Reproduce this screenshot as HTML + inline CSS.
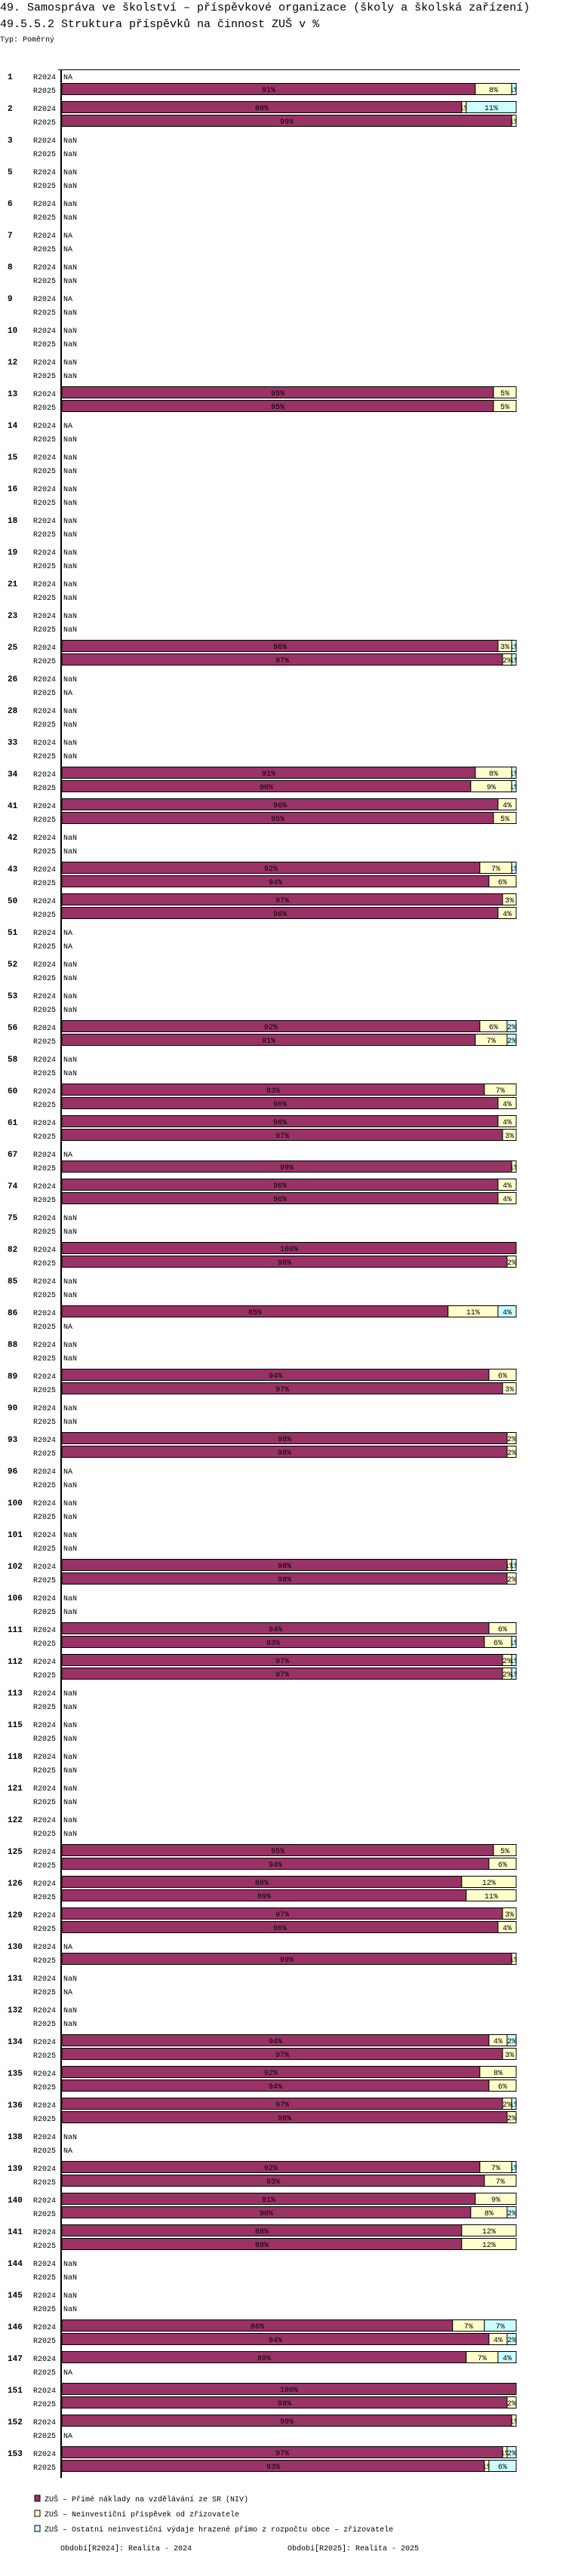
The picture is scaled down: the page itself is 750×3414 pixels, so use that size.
<!DOCTYPE html>
<html><head><meta charset="utf-8"><style>
body{margin:0;background:#fff;}
svg{display:block;font-family:"Liberation Mono",monospace;}
</style></head><body>
<svg id="chart" width="750" height="3414" viewBox="0 0 750 3414" xmlns="http://www.w3.org/2000/svg">
<defs id="defs"></defs>
<text x="0" y="14" font-size="15">49. Samospráva ve školství – příspěvkové organizace (školy a školská zařízení)</text>
<text x="0" y="36" font-size="15">49.5.5.2 Struktura příspěvků na činnost ZUŠ v %</text>
<text x="0" y="55" font-size="10">Typ: Poměrný</text>
<g id="plot"></g>
<g>
<rect x="46" y="3307" width="7" height="8" fill="#993366" stroke="#000"/>
<text x="59" y="3315" font-size="10">ZUŠ – Přímé náklady na vzdělávání ze SR (NIV)</text>
<rect x="46" y="3327" width="7" height="8" fill="#FFFFCC" stroke="#000"/>
<text x="59" y="3335" font-size="10">ZUŠ – Neinvestiční příspěvek od zřizovatele</text>
<rect x="46" y="3347" width="7" height="8" fill="#CCFFFF" stroke="#000"/>
<text x="59" y="3355" font-size="10">ZUŠ – Ostatní neinvestiční výdaje hrazené přímo z rozpočtu obce – zřizovatele</text>
<text x="80" y="3380" font-size="10">Období[R2024]: Realita - 2024</text>
<text x="381" y="3380" font-size="10">Období[R2025]: Realita - 2025</text>
</g>
</svg>
<script>
const groups = [1,2,3,5,6,7,8,9,10,12,13,14,15,16,18,19,21,23,25,26,28,33,34,41,42,43,50,51,52,53,56,58,60,61,67,74,75,82,85,86,88,89,90,93,96,100,101,102,106,111,112,113,115,118,121,122,125,126,129,130,131,132,134,135,136,138,139,140,141,144,145,146,147,151,152,153];
const periods = ["R2024","R2025"];
const r2024 = ["NA",[88,1,11],"NaN","NaN","NaN","NA","NaN","NA","NaN","NaN",[95,5,0],"NA","NaN","NaN","NaN","NaN","NaN","NaN",[96,3,1],"NaN","NaN","NaN",[91,8,1],[96,4,0],"NaN",[92,7,1],[97,3,0],"NA","NaN","NaN",[92,6,2],"NaN",[93,7,0],[96,4,0],"NA",[96,4,0],"NaN",[100,0,0],"NaN",[85,11,4],"NaN",[94,6,0],"NaN",[98,2,0],"NA","NaN","NaN",[98,1,1],"NaN",[94,6,0],[97,2,1],"NaN","NaN","NaN","NaN","NaN",[95,5,0],[88,12,0],[97,3,0],"NA","NaN","NaN",[94,4,2],[92,8,0],[97,2,1],"NaN",[92,7,1],[91,9,0],[88,12,0],"NaN","NaN",[86,7,7],[89,7,4],[100,0,0],[99,1,0],[97,1,2]];
const r2025 = [[91,8,1],[99,1,0],"NaN","NaN","NaN","NA","NaN","NaN","NaN","NaN",[95,5,0],"NaN","NaN","NaN","NaN","NaN","NaN","NaN",[97,2,1],"NA","NaN","NaN",[90,9,1],[95,5,0],"NaN",[94,6,0],[96,4,0],"NA","NaN","NaN",[91,7,2],"NaN",[96,4,0],[97,3,0],[99,1,0],[96,4,0],"NaN",[98,2,0],"NaN","NA","NaN",[97,3,0],"NaN",[98,2,0],"NaN","NaN","NaN",[98,2,0],"NaN",[93,6,1],[97,2,1],"NaN","NaN","NaN","NaN","NaN",[94,6,0],[89,11,0],[96,4,0],[99,1,0],"NA","NaN",[97,3,0],[94,6,0],[98,2,0],"NA",[93,7,0],[90,8,2],[88,12,0],"NaN","NaN",[94,4,2],"NA",[98,2,0],"NA",[93,1,6]];
const colors = ["#993366","#FFFFCC","#CCFFFF"];
const segNames = ["direct","founder","other"];

const NS="http://www.w3.org/2000/svg";
const plot=document.getElementById('plot');
const defs=document.getElementById('defs');
const X0=82, W=602, Y0=101, PITCH=42, ROW=18, BH=15;
function xScale(v){return v/100*W;}
function yScale(gi,pi){return Y0+gi*PITCH+pi*ROW;}
function mk(tag,attrs){const e=document.createElementNS(NS,tag);for(const k in attrs)e.setAttribute(k,attrs[k]);return e;}

const axisTop=mk('line',{x1:77,y1:92.5,x2:689,y2:92.5,stroke:'#000','stroke-width':1});


plot.appendChild(axisTop);
const axisV=mk('line',{x1:81,y1:92,x2:81,y2:3284,stroke:'#000','stroke-width':2});


plot.appendChild(axisV);

const data=[r2024,r2025];
let cid=0;
groups.forEach((g,gi)=>{
  const gl=mk('text',{x:10,y:yScale(gi,0)+4,'font-size':11,'font-weight':'bold'});
  gl.textContent=String(g);
  
  
  plot.appendChild(gl);
  periods.forEach((p,pi)=>{
    const cy=yScale(gi,pi);
    const pl=mk('text',{x:74,y:cy+4,'font-size':10,'text-anchor':'end'});
    pl.textContent=p;
    
    
    plot.appendChild(pl);
    const v=data[pi][gi];
    if(typeof v==='string'){
      const t=mk('text',{x:84,y:cy+4,'font-size':10});
      t.textContent=v;
      
      
      plot.appendChild(t);
      return;
    }
    let acc=0;
    v.forEach((val,si)=>{
      if(val<=0)return;
      const x=X0+xScale(acc), w=xScale(val);
      const r=mk('rect',{x:x,y:cy-8.5,width:w,height:BH,fill:colors[si],stroke:'#000','stroke-width':1});
      
      
      plot.appendChild(r);
      const id='c'+(cid++);
      const cp=mk('clipPath',{id:id});
      cp.appendChild(mk('rect',{x:x,y:cy-8.5,width:w,height:BH}));
      defs.appendChild(cp);
      const t=mk('text',{x:x+w/2,y:cy+3,'font-size':10,'text-anchor':'middle','clip-path':'url(#'+id+')'});
      t.textContent=val+'%';
      
      
      plot.appendChild(t);
      acc+=val;
    });
  });
});
</script>
</body></html>
